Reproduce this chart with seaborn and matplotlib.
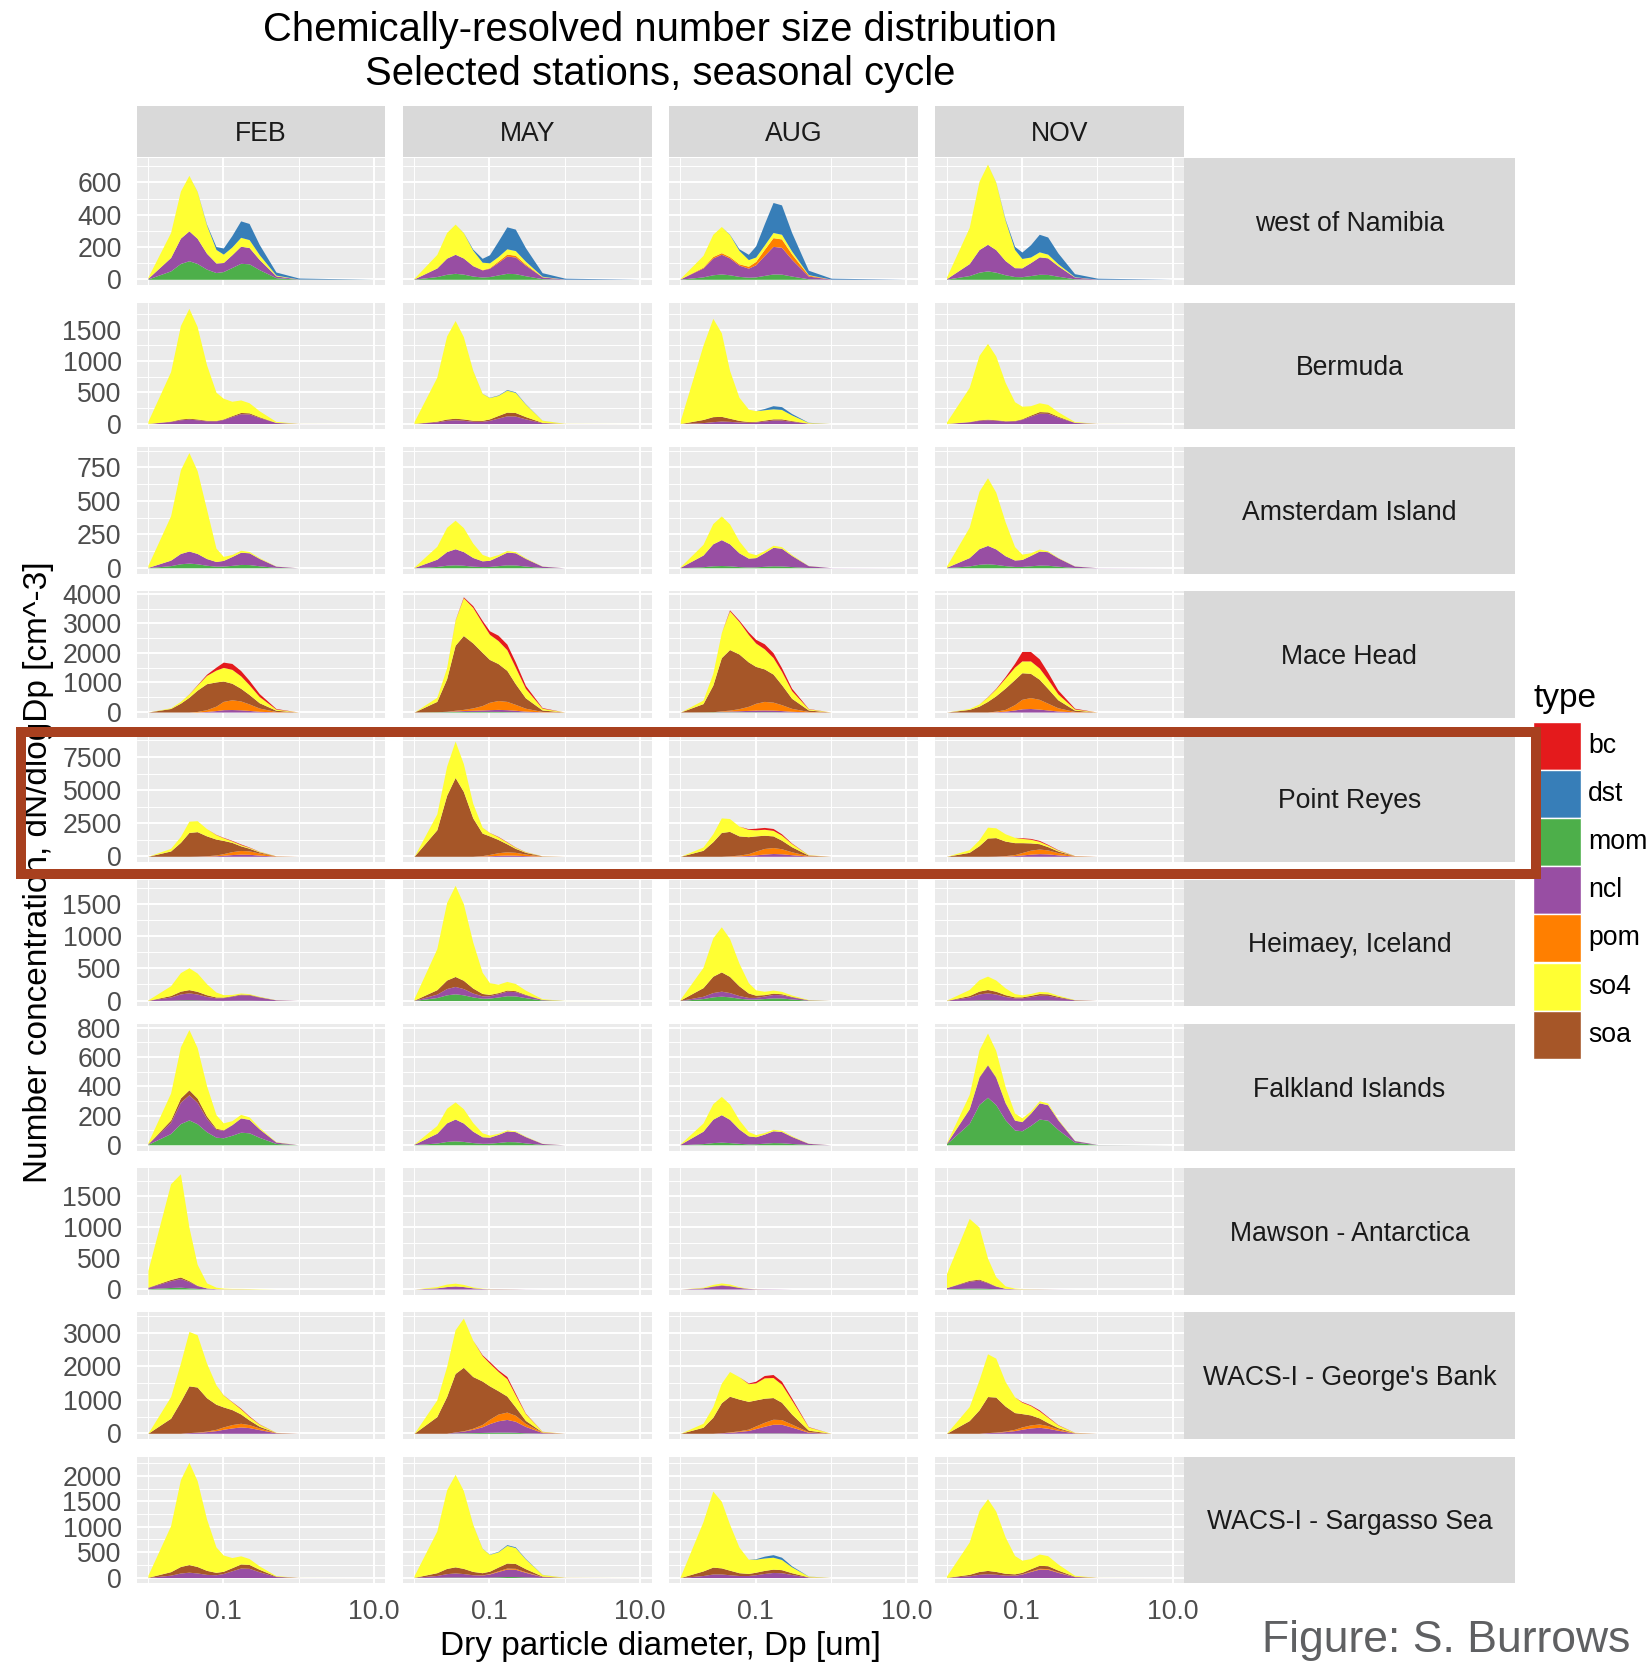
import matplotlib
matplotlib.use("Agg")
import matplotlib.pyplot as plt
import numpy as np
import seaborn as sns
from matplotlib.patches import Rectangle
from matplotlib.ticker import FixedLocator, NullFormatter

# ---------------------------------------------------------------------------
# Data
# ---------------------------------------------------------------------------
DIAMETERS = [0.01, 0.02, 0.027, 0.035, 0.045, 0.06, 0.08, 0.1, 0.13, 0.17, 0.22, 0.3, 0.5, 1.0, 10.0]
MONTHS = ["FEB", "MAY", "AUG", "NOV"]
TYPES = ["bc", "dst", "mom", "ncl", "pom", "so4", "soa"]
STACK_ORDER = ["mom", "ncl", "pom", "soa", "so4", "dst", "bc"]  # bottom -> top
NONE = [0, 0, 0, 0, 0, 0, 0, 0, 0, 0, 0, 0, 0, 0, 0]

# each entry: type -> [FEB, MAY, AUG, NOV]
NAMIBIA = {
    "mom": [[2, 52, 98, 115, 98, 63, 42, 48, 73, 99, 96, 60, 10, 1, 0],
            [1, 17, 31, 37, 32, 20, 14, 17, 27, 37, 35, 22, 4, 0, 0],
            [1, 15, 28, 33, 28, 18, 13, 15, 24, 33, 32, 20, 3, 0, 0],
            [1, 23, 44, 52, 44, 28, 17, 16, 23, 31, 30, 19, 3, 0, 0]],
    "ncl": [[4, 83, 157, 185, 156, 98, 59, 56, 79, 106, 101, 63, 11, 1, 0],
            [2, 53, 100, 118, 100, 64, 44, 51, 78, 107, 103, 65, 11, 1, 0],
            [2, 55, 104, 122, 104, 70, 56, 75, 123, 171, 166, 104, 17, 1, 0],
            [3, 74, 140, 165, 140, 88, 55, 55, 80, 108, 103, 65, 11, 1, 0]],
    "pom": [NONE,
            [0, 0, 0, 0, 0, 1, 2, 4, 8, 12, 11, 7, 1, 0, 0],
            [0, 5, 9, 10, 9, 8, 12, 21, 38, 54, 52, 33, 6, 0, 0],
            NONE],
    "so4": [[7, 155, 292, 344, 290, 175, 84, 52, 48, 55, 49, 30, 5, 0, 0],
            [4, 84, 159, 187, 157, 95, 46, 30, 28, 33, 29, 18, 3, 0, 0],
            [3, 73, 138, 162, 136, 83, 41, 27, 27, 32, 29, 18, 3, 0, 0],
            [10, 224, 423, 497, 418, 250, 113, 58, 35, 31, 23, 13, 2, 0, 0]],
    "dst": [[0, 0, 0, 0, 1, 5, 18, 38, 71, 102, 100, 63, 19, 6, 0],
            [0, 0, 0, 0, 1, 7, 24, 50, 95, 136, 133, 84, 22, 6, 0],
            [0, 0, 0, 0, 2, 10, 33, 69, 131, 186, 182, 115, 27, 6, 0],
            [0, 0, 0, 0, 1, 6, 19, 40, 76, 109, 106, 67, 19, 6, 0]],
}

BERMUDA = {
    "ncl": [[1, 32, 60, 70, 60, 43, 43, 65, 112, 157, 152, 96, 16, 1, 0],
            [1, 27, 51, 60, 52, 36, 35, 51, 87, 123, 119, 75, 13, 1, 0],
            [0, 15, 30, 40, 35, 25, 20, 25, 40, 55, 55, 35, 5, 0, 0],
            [1, 27, 51, 60, 52, 39, 42, 67, 118, 166, 162, 102, 17, 1, 0]],
    "soa": [[0, 7, 13, 15, 13, 9, 7, 9, 14, 20, 19, 12, 2, 0, 0],
            [1, 11, 21, 25, 22, 16, 16, 24, 42, 59, 57, 36, 6, 0, 0],
            [0, 50, 80, 75, 50, 25, 12, 10, 15, 20, 20, 12, 2, 0, 0],
            [0, 5, 9, 10, 9, 6, 7, 10, 17, 25, 24, 15, 3, 0, 0]],
    "so4": [[35, 790, 1492, 1755, 1476, 886, 450, 330, 230, 200, 161, 96, 16, 1, 0],
            [31, 702, 1326, 1560, 1314, 797, 430, 340, 320, 351, 321, 198, 33, 2, 0],
            [50, 1185, 1570, 1335, 765, 370, 198, 170, 165, 160, 150, 90, 10, 0, 0],
            [24, 545, 1029, 1210, 1018, 611, 300, 200, 150, 141, 120, 72, 12, 1, 0]],
    "dst": [NONE,
            [0, 0, 0, 0, 0, 1, 2, 4, 7, 10, 10, 6, 1, 0, 0],
            [0, 0, 0, 0, 0, 0, 0, 0, 20, 50, 45, 23, 3, 0, 0],
            NONE],
}

AMSTERDAM = {
    "mom": [[1, 16, 30, 35, 30, 19, 12, 13, 18, 25, 24, 15, 3, 0, 0],
            [0, 10, 19, 22, 19, 12, 9, 10, 16, 22, 21, 13, 2, 0, 0],
            [0, 8, 15, 17, 15, 9, 6, 7, 11, 15, 14, 9, 2, 0, 0],
            [1, 14, 26, 30, 25, 16, 10, 10, 15, 20, 19, 12, 2, 0, 0]],
    "ncl": [[2, 41, 77, 90, 77, 50, 35, 42, 66, 91, 88, 55, 9, 0, 0],
            [2, 54, 102, 120, 102, 65, 43, 46, 69, 95, 91, 57, 10, 0, 0],
            [4, 87, 164, 193, 164, 103, 66, 69, 102, 138, 132, 83, 14, 1, 0],
            [3, 62, 117, 137, 116, 74, 48, 52, 77, 105, 101, 63, 11, 1, 0]],
    "so4": [[15, 331, 625, 735, 618, 368, 100, 30, 15, 15, 10, 6, 1, 0, 0],
            [4, 96, 181, 213, 179, 107, 48, 24, 14, 12, 9, 5, 1, 0, 0],
            [4, 80, 151, 177, 149, 89, 41, 22, 15, 15, 12, 7, 1, 0, 0],
            [10, 227, 429, 505, 424, 253, 100, 40, 20, 15, 7, 3, 1, 0, 0]],
}

MACE_HEAD = {
    "mom": [NONE,
            [0, 10, 15, 20, 20, 20, 20, 20, 20, 15, 10, 5, 0, 0, 0],
            [0, 5, 10, 10, 10, 10, 10, 10, 10, 10, 5, 5, 0, 0, 0],
            NONE],
    "ncl": [[0, 0, 0, 0, 0, 20, 50, 80, 85, 75, 55, 25, 5, 0, 0],
            [0, 0, 10, 20, 30, 40, 50, 60, 70, 65, 50, 25, 5, 0, 0],
            [0, 0, 0, 15, 25, 35, 45, 55, 60, 55, 45, 20, 5, 0, 0],
            [0, 0, 0, 0, 10, 30, 70, 110, 120, 100, 70, 35, 5, 0, 0]],
    "pom": [[0, 0, 0, 0, 20, 60, 150, 280, 330, 300, 220, 110, 15, 0, 0],
            [0, 0, 0, 20, 40, 80, 150, 250, 300, 280, 200, 100, 15, 0, 0],
            [0, 0, 0, 15, 30, 70, 140, 230, 290, 270, 200, 100, 15, 0, 0],
            [0, 0, 0, 0, 20, 60, 180, 320, 370, 330, 230, 110, 15, 0, 0]],
    "soa": [[0, 120, 300, 500, 720, 880, 820, 690, 560, 430, 320, 180, 40, 0, 0],
            [0, 350, 1100, 2200, 2500, 2200, 1800, 1450, 1250, 1050, 700, 350, 50, 0, 0],
            [0, 280, 900, 1800, 2050, 1850, 1500, 1250, 1100, 950, 680, 340, 50, 0, 0],
            [0, 90, 200, 360, 520, 720, 850, 900, 820, 680, 500, 270, 45, 0, 0]],
    "so4": [[0, 25, 60, 110, 170, 280, 400, 460, 470, 420, 330, 210, 40, 0, 0],
            [0, 140, 375, 850, 1280, 1200, 1000, 850, 780, 700, 560, 320, 60, 0, 0],
            [0, 120, 400, 850, 1310, 1100, 930, 790, 680, 560, 450, 260, 40, 0, 0],
            [0, 30, 75, 150, 230, 340, 420, 400, 420, 380, 310, 200, 40, 0, 0]],
    "bc": [[0, 0, 0, 5, 15, 40, 100, 180, 200, 180, 150, 100, 20, 0, 0],
           [0, 0, 0, 10, 30, 60, 80, 120, 180, 190, 180, 100, 20, 0, 0],
           [0, 0, 0, 0, 35, 45, 85, 125, 170, 165, 125, 80, 10, 0, 0],
           [0, 0, 0, 10, 20, 50, 130, 320, 320, 310, 240, 135, 25, 0, 0]],
}

POINT_REYES = {
    "ncl": [[0, 0, 0, 0, 10, 20, 40, 80, 130, 160, 150, 90, 10, 0, 0],
            [0, 0, 0, 0, 0, 0, 20, 40, 70, 90, 80, 50, 5, 0, 0],
            [0, 0, 0, 0, 10, 30, 60, 110, 170, 210, 190, 120, 15, 0, 0],
            [0, 0, 0, 0, 10, 20, 50, 100, 160, 200, 180, 110, 15, 0, 0]],
    "pom": [[0, 0, 0, 0, 0, 20, 60, 120, 220, 280, 260, 160, 15, 0, 0],
            [0, 0, 0, 0, 0, 0, 30, 100, 200, 250, 220, 120, 10, 0, 0],
            [0, 0, 0, 0, 20, 60, 140, 280, 420, 450, 380, 220, 25, 0, 0],
            [0, 0, 0, 0, 0, 30, 80, 180, 300, 350, 300, 170, 20, 0, 0]],
    "soa": [[0, 400, 1050, 1800, 1850, 1500, 1200, 1000, 700, 350, 200, 80, 10, 0, 0],
            [0, 2000, 4600, 5950, 4900, 2900, 1700, 1400, 1000, 600, 300, 130, 15, 0, 0],
            [0, 450, 1100, 1800, 1850, 1450, 1280, 1150, 1000, 880, 650, 380, 50, 0, 0],
            [0, 300, 800, 1380, 1400, 1100, 900, 750, 550, 400, 250, 120, 15, 0, 0]],
    "so4": [[0, 200, 450, 850, 830, 550, 330, 200, 110, 90, 60, 40, 5, 0, 0],
            [0, 1200, 2200, 2750, 2100, 1100, 450, 250, 200, 130, 80, 40, 8, 0, 0],
            [0, 250, 600, 1100, 970, 740, 550, 460, 450, 420, 380, 240, 25, 0, 0],
            [0, 200, 450, 820, 740, 550, 400, 320, 280, 180, 120, 70, 8, 0, 0]],
    "bc": [[0, 0, 0, 0, 0, 0, 20, 30, 40, 50, 30, 10, 0, 0, 0],
           [0, 0, 0, 0, 0, 0, 0, 10, 30, 30, 20, 10, 0, 0, 0],
           [0, 0, 0, 0, 0, 0, 50, 120, 140, 140, 100, 40, 5, 0, 0],
           [0, 0, 0, 0, 0, 0, 0, 50, 60, 70, 50, 30, 2, 0, 0]],
}

HEIMAEY = {
    "mom": [[0, 5, 9, 10, 8, 5, 3, 3, 4, 5, 5, 3, 1, 0, 0],
            [2, 47, 89, 105, 89, 56, 36, 38, 55, 75, 72, 45, 8, 0, 0],
            [1, 31, 58, 68, 58, 36, 22, 22, 31, 42, 40, 25, 4, 0, 0],
            [0, 5, 9, 10, 8, 5, 4, 4, 6, 8, 8, 5, 1, 0, 0]],
    "ncl": [[2, 50, 94, 110, 93, 59, 39, 42, 62, 85, 81, 51, 9, 0, 0],
            [2, 52, 98, 115, 97, 61, 37, 37, 52, 70, 67, 42, 7, 0, 0],
            [2, 35, 66, 78, 66, 42, 26, 27, 39, 52, 50, 31, 5, 0, 0],
            [2, 50, 94, 110, 93, 59, 37, 38, 55, 75, 72, 45, 8, 0, 0]],
    "soa": [[1, 23, 43, 50, 42, 26, 13, 9, 9, 11, 10, 6, 1, 0, 0],
            [3, 70, 132, 155, 130, 78, 37, 21, 16, 18, 15, 9, 2, 0, 0],
            [6, 135, 255, 300, 252, 151, 69, 35, 22, 21, 16, 9, 2, 0, 0],
            [1, 23, 44, 52, 44, 27, 16, 15, 20, 26, 25, 16, 3, 0, 0]],
    "so4": [[7, 153, 289, 340, 286, 171, 77, 38, 20, 17, 11, 6, 1, 0, 0],
            [28, 639, 1207, 1420, 1194, 716, 331, 182, 132, 135, 112, 66, 11, 1, 0],
            [14, 316, 598, 703, 591, 353, 161, 83, 52, 48, 37, 21, 4, 0, 0],
            [4, 94, 177, 208, 175, 106, 51, 32, 29, 33, 30, 18, 3, 0, 0]],
}

FALKLAND = {
    "mom": [[3, 77, 145, 170, 144, 89, 52, 48, 65, 86, 82, 51, 9, 0, 0],
            [1, 12, 23, 27, 23, 15, 10, 11, 16, 22, 21, 13, 2, 0, 0],
            [0, 8, 15, 18, 15, 10, 6, 7, 11, 15, 14, 9, 2, 0, 0],
            [7, 146, 276, 325, 275, 171, 101, 96, 132, 176, 168, 105, 18, 1, 0]],
    "ncl": [[3, 77, 146, 172, 146, 91, 54, 52, 72, 97, 92, 58, 10, 0, 0],
            [3, 67, 127, 149, 126, 78, 45, 41, 55, 73, 69, 43, 7, 0, 0],
            [4, 85, 160, 188, 159, 98, 55, 48, 62, 81, 77, 48, 8, 0, 0],
            [4, 99, 186, 219, 185, 115, 67, 62, 84, 111, 106, 66, 11, 1, 0]],
    "soa": [[1, 15, 29, 34, 29, 17, 7, 3, 1, 1, 0, 0, 0, 0, 0],
            NONE,
            NONE,
            [0, 2, 4, 5, 4, 3, 1, 1, 0, 0, 0, 0, 0, 0, 0]],
    "so4": [[8, 185, 350, 412, 346, 207, 93, 47, 27, 24, 17, 10, 2, 0, 0],
            [2, 53, 100, 117, 98, 59, 27, 14, 8, 7, 5, 3, 1, 0, 0],
            [3, 56, 106, 125, 105, 63, 29, 15, 10, 10, 8, 5, 1, 0, 0],
            [4, 97, 183, 215, 181, 108, 49, 25, 15, 14, 11, 6, 1, 0, 0]],
}

MAWSON = {
    "mom": [[5, 25, 30, 20, 10, 3, 0, 0, 0, 0, 0, 0, 0, 0, 0],
            NONE,
            NONE,
            [3, 15, 15, 10, 5, 0, 0, 0, 0, 0, 0, 0, 0, 0, 0]],
    "ncl": [[20, 110, 140, 100, 45, 15, 5, 3, 3, 3, 2, 0, 0, 0, 0],
            [0, 20, 40, 50, 40, 20, 8, 5, 5, 4, 3, 1, 0, 0, 0],
            [0, 20, 45, 60, 50, 25, 10, 5, 4, 3, 2, 0, 0, 0, 0],
            [20, 110, 130, 90, 40, 12, 5, 3, 3, 3, 2, 1, 0, 0, 0]],
    "soa": [[5, 20, 25, 15, 5, 0, 0, 0, 0, 0, 0, 0, 0, 0, 0],
            NONE,
            [0, 0, 5, 8, 6, 3, 0, 0, 0, 0, 0, 0, 0, 0, 0],
            [0, 15, 15, 10, 5, 0, 0, 0, 0, 0, 0, 0, 0, 0, 0]],
    "so4": [[270, 1545, 1665, 865, 340, 82, 25, 12, 7, 7, 6, 4, 0, 0, 0],
            [0, 20, 40, 45, 35, 15, 5, 3, 2, 2, 1, 0, 0, 0, 0],
            [0, 10, 25, 30, 25, 10, 3, 2, 0, 0, 0, 0, 0, 0, 0],
            [227, 1000, 840, 390, 150, 38, 10, 5, 3, 2, 1, 0, 0, 0, 0]],
}

GEORGES_BANK = {
    "mom": [NONE,
            [0, 0, 0, 10, 15, 20, 25, 30, 35, 35, 30, 15, 2, 0, 0],
            [0, 0, 0, 0, 0, 5, 5, 10, 10, 10, 10, 5, 0, 0, 0],
            NONE],
    "ncl": [[0, 0, 0, 20, 30, 50, 80, 120, 160, 190, 170, 110, 15, 0, 0],
            [0, 0, 0, 30, 50, 100, 170, 260, 340, 380, 330, 190, 20, 0, 0],
            [0, 0, 0, 15, 30, 50, 80, 130, 200, 260, 260, 180, 30, 0, 0],
            [0, 0, 0, 20, 30, 50, 80, 120, 160, 180, 150, 90, 10, 0, 0]],
    "pom": [[0, 0, 0, 0, 5, 15, 40, 70, 100, 110, 90, 50, 5, 0, 0],
            [0, 0, 0, 0, 10, 30, 70, 130, 200, 220, 180, 90, 10, 0, 0],
            [0, 0, 0, 0, 10, 20, 40, 80, 120, 150, 140, 90, 15, 0, 0],
            [0, 0, 0, 0, 5, 15, 40, 70, 90, 100, 80, 40, 5, 0, 0]],
    "soa": [[0, 450, 950, 1400, 1350, 1000, 750, 600, 450, 280, 140, 50, 5, 0, 0],
            [0, 500, 1100, 1750, 1900, 1550, 1300, 1000, 700, 480, 250, 90, 10, 0, 0],
            [0, 180, 480, 900, 1070, 950, 830, 780, 720, 650, 520, 300, 50, 0, 0],
            [0, 380, 700, 1080, 1050, 750, 500, 400, 300, 180, 90, 40, 5, 0, 0]],
    "so4": [[0, 650, 1150, 1630, 1565, 1035, 580, 355, 230, 150, 100, 60, 5, 0, 0],
            [0, 500, 900, 1310, 1475, 1090, 760, 680, 580, 520, 360, 200, 15, 0, 0],
            [0, 120, 320, 585, 740, 670, 530, 510, 610, 600, 540, 420, 95, 0, 0],
            [0, 420, 900, 1280, 1165, 735, 470, 340, 280, 210, 160, 80, 8, 0, 0]],
    "bc": [[0, 0, 0, 0, 0, 0, 0, 5, 10, 20, 20, 10, 0, 0, 0],
           [0, 0, 0, 0, 0, 0, 25, 50, 45, 65, 50, 15, 3, 0, 0],
           [0, 0, 0, 0, 0, 0, 20, 50, 70, 90, 90, 60, 10, 0, 0],
           [0, 0, 0, 0, 0, 0, 0, 20, 20, 30, 20, 10, 2, 0, 0]],
}

SARGASSO = {
    "mom": [NONE,
            [0, 5, 9, 10, 9, 6, 6, 8, 14, 20, 19, 12, 2, 0, 0],
            NONE,
            NONE],
    "ncl": [[2, 47, 89, 105, 90, 62, 55, 79, 133, 186, 181, 114, 19, 1, 0],
            [2, 36, 68, 80, 69, 48, 43, 62, 105, 147, 143, 90, 15, 1, 0],
            [0, 40, 70, 70, 55, 40, 40, 55, 80, 100, 95, 60, 8, 0, 0],
            [2, 34, 64, 75, 65, 46, 45, 69, 119, 166, 162, 102, 17, 1, 0]],
    "pom": [NONE,
            [0, 0, 0, 0, 0, 1, 3, 7, 14, 19, 19, 12, 2, 0, 0],
            NONE,
            [0, 0, 0, 0, 0, 1, 3, 5, 10, 15, 14, 9, 2, 0, 0]],
    "soa": [[3, 68, 128, 150, 127, 79, 47, 44, 60, 81, 77, 48, 8, 0, 0],
            [2, 54, 102, 120, 102, 65, 43, 48, 73, 99, 96, 60, 10, 1, 0],
            [0, 90, 135, 120, 90, 55, 40, 50, 60, 65, 60, 35, 5, 0, 0],
            [1, 29, 55, 65, 55, 36, 25, 28, 43, 60, 57, 36, 6, 0, 0]],
    "so4": [[40, 905, 1709, 2011, 1690, 1011, 500, 320, 200, 160, 116, 67, 11, 1, 0],
            [36, 819, 1547, 1820, 1532, 926, 480, 330, 300, 347, 313, 192, 32, 2, 0],
            [20, 970, 1495, 1310, 905, 505, 280, 255, 245, 235, 200, 115, 15, 0, 0],
            [28, 635, 1199, 1410, 1186, 715, 360, 240, 200, 222, 197, 120, 20, 1, 0]],
    "dst": [NONE,
            [0, 0, 0, 0, 0, 1, 3, 5, 10, 15, 14, 9, 2, 0, 0],
            [0, 0, 0, 0, 0, 0, 0, 10, 35, 50, 45, 20, 2, 0, 0],
            NONE],
}

STATIONS = ["west of Namibia", "Bermuda", "Amsterdam Island", "Mace Head", "Point Reyes",
            "Heimaey, Iceland", "Falkland Islands", "Mawson - Antarctica",
            "WACS-I - George's Bank", "WACS-I - Sargasso Sea"]
STATION_VALUES = [NAMIBIA, BERMUDA, AMSTERDAM, MACE_HEAD, POINT_REYES,
                  HEIMAEY, FALKLAND, MAWSON, GEORGES_BANK, SARGASSO]
Y_BREAKS = [[0, 200, 400, 600], [0, 500, 1000, 1500], [0, 250, 500, 750],
            [0, 1000, 2000, 3000, 4000], [0, 2500, 5000, 7500], [0, 500, 1000, 1500],
            [0, 200, 400, 600, 800], [0, 500, 1000, 1500], [0, 1000, 2000, 3000],
            [0, 500, 1000, 1500, 2000]]
X_BREAKS = [0.1, 10.0]
X_LABELS = ["0.1", "10.0"]
X_MINOR = [0.01, 1.0]

# ---------------------------------------------------------------------------
# Style
# ---------------------------------------------------------------------------
sns.set_theme(style="darkgrid", rc={"axes.facecolor": "#EBEBEB", "grid.color": "white"})
plt.rcParams["font.family"] = ["Liberation Sans", "DejaVu Sans"]
PALETTE = dict(zip(TYPES, sns.color_palette("Set1", 7)))

W, H = 1651, 1664
PANEL_LEFT, PANEL_TOP = 136.6, 158.3
PANEL_W, PANEL_H, GAP = 248.7, 126.75, 17.5
STRIP_TOP, STRIP_H = 106, 51
STRIP_RIGHT_W = 331
TXT_SMALL = 19.2
TXT_MID = 24


def fig_rect(x, y, w, h):
    """pixel box (top-left origin) -> figure fraction rect"""
    return [x / W, 1 - (y + h) / H, w / W, h / H]


def fx(x):
    return x / W


def fy(y):
    return 1 - y / H


fig = plt.figure(figsize=(W / 100, H / 100), dpi=100)
fig.patch.set_facecolor("white")

for r, (station, values) in enumerate(zip(STATIONS, STATION_VALUES)):
    top = PANEL_TOP + r * (PANEL_H + GAP)
    stacks = []
    for c in range(len(MONTHS)):
        layers = [np.array(values.get(t, [NONE] * 4)[c], dtype=float) for t in STACK_ORDER]
        stacks.append(layers)
    ymax = max(np.sum(layers, axis=0).max() for layers in stacks)
    breaks = Y_BREAKS[r]
    step = breaks[1] - breaks[0]
    minor = [b + step / 2 for b in breaks if b + step / 2 <= 1.05 * ymax]

    for c, month in enumerate(MONTHS):
        left = PANEL_LEFT + c * (PANEL_W + GAP)
        ax = fig.add_axes(fig_rect(left, top, PANEL_W, PANEL_H))
        base = np.zeros(len(DIAMETERS))
        for t, vals in zip(STACK_ORDER, stacks[c]):
            if vals.sum() == 0:
                continue
            ax.fill_between(DIAMETERS, base, base + vals, where=vals > 0, interpolate=True,
                            color=PALETTE[t], linewidth=0, zorder=2)
            base = base + vals

        ax.set_xscale("log")
        ax.set_xlim(10 ** -2.15, 10 ** 1.15)
        ax.set_ylim(-0.05 * ymax, 1.05 * ymax)
        ax.set_xticks(X_BREAKS, labels=X_LABELS)
        ax.xaxis.set_minor_locator(FixedLocator(X_MINOR))
        ax.xaxis.set_minor_formatter(NullFormatter())
        ax.set_yticks(breaks, labels=[str(b) for b in breaks])
        ax.yaxis.set_minor_locator(FixedLocator(minor))
        ax.set_axisbelow(True)
        ax.grid(True, which="major", color="white", linewidth=1.4)
        ax.grid(True, which="minor", color="white", linewidth=0.7)
        for sp in ax.spines.values():
            sp.set_visible(False)
        ax.tick_params(which="major", length=5.8, width=1.0, color="#333333",
                       labelsize=TXT_SMALL, labelcolor="#4D4D4D")
        ax.tick_params(axis="y", pad=5)
        ax.tick_params(axis="x", pad=5.5)
        ax.tick_params(which="minor", length=0)
        if c > 0:
            ax.tick_params(axis="y", left=False, labelleft=False)
        if r < len(STATIONS) - 1:
            ax.tick_params(axis="x", bottom=False, labelbottom=False)

        # top strips
        if r == 0:
            sax = fig.add_axes(fig_rect(left, STRIP_TOP, PANEL_W, STRIP_H))
            sax.set_facecolor("#D9D9D9")
            sax.set_xticks([])
            sax.set_yticks([])
            sax.grid(False)
            for sp in sax.spines.values():
                sp.set_visible(False)
            sax.text(0.5, 0.45, month, ha="center", va="center",
                     fontsize=TXT_SMALL, color="#1A1A1A", transform=sax.transAxes)

    # right strip
    strip_left = PANEL_LEFT + 4 * PANEL_W + 3 * GAP
    rax = fig.add_axes(fig_rect(strip_left, top, STRIP_RIGHT_W, PANEL_H))
    rax.set_facecolor("#D9D9D9")
    rax.set_xticks([])
    rax.set_yticks([])
    rax.grid(False)
    for sp in rax.spines.values():
        sp.set_visible(False)
    rax.text(0.5, 0.48, station, ha="center", va="center",
             fontsize=TXT_SMALL, color="#1A1A1A", transform=rax.transAxes)

# titles and axis labels
fig.text(fx(660), fy(52), "Chemically-resolved number size distribution\nSelected stations, seasonal cycle",
         ha="center", va="center", fontsize=28.8, linespacing=1.2, color="black")
fig.text(fx(660), fy(1647), "Dry particle diameter, Dp [um]", ha="center", va="center",
         fontsize=TXT_MID, color="black")
fig.text(fx(39), fy(872), "Number concentration, dN/dlogDp [cm^-3]", ha="center", va="center",
         rotation=90, fontsize=TXT_MID, color="black")

# legend
fig.text(fx(1533), fy(699), "type", ha="left", va="center", fontsize=TXT_MID, color="black")
key_h = 48.2
for k, t in enumerate(TYPES):
    ky = 721.5 + k * key_h
    fig.add_artist(Rectangle((fx(1533), fy(ky + key_h)), 48 / W, key_h / H,
                             transform=fig.transFigure, facecolor=PALETTE[t],
                             edgecolor="white", linewidth=1.0))
    fig.text(fx(1588), fy(ky + key_h / 2), t, ha="left", va="center",
             fontsize=TXT_SMALL, color="black")

# highlight box around Point Reyes
fig.add_artist(Rectangle((fx(21), fy(874)), (1536 - 21) / W, (874 - 731.5) / H,
                         transform=fig.transFigure, fill=False,
                         edgecolor="#A8401F", linewidth=7.2, zorder=20))

# credit in the bottom-right corner
fig.text(fx(1262), fy(1652), "Figure: S. Burrows", ha="left", va="baseline",
         fontsize=32, color="#5F6062")

fig.savefig("out.png", dpi=100)
